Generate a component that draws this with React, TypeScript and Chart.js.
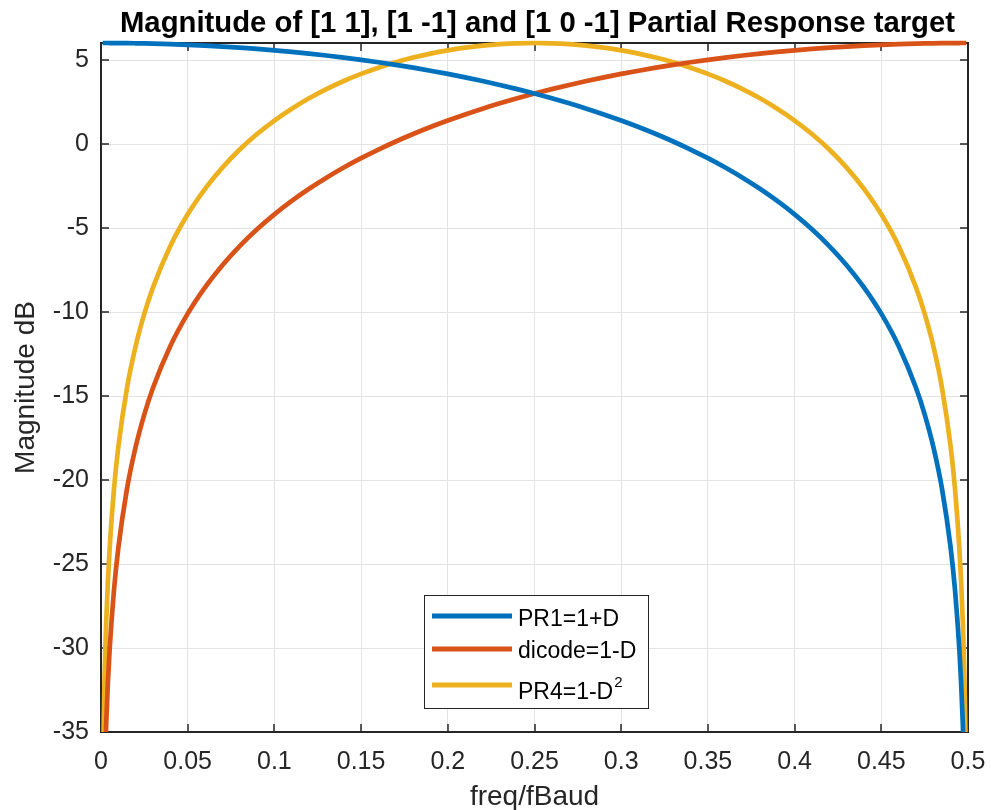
import { useEffect, useRef } from "react";
import { Chart, registerables } from "chart.js";

Chart.register(...registerables);

const FONT = '"Liberation Sans", Arial, Helvetica, sans-serif';

// normalized frequency (freq / fBaud)
const freq = [
  0.001, 0.002, 0.003, 0.004, 0.005, 0.0075, 0.01, 0.015, 0.02, 0.025, 0.03, 0.04,
  0.05, 0.06, 0.07, 0.08, 0.09, 0.1, 0.11, 0.12, 0.13, 0.14, 0.15, 0.16, 0.17, 0.18, 0.19,
  0.2, 0.21, 0.22, 0.23, 0.24, 0.25, 0.26, 0.27, 0.28, 0.29, 0.3, 0.31, 0.32, 0.33, 0.34,
  0.35, 0.36, 0.37, 0.38, 0.39, 0.4, 0.41, 0.42, 0.43, 0.44, 0.45,
  0.46, 0.47, 0.475, 0.48, 0.485, 0.49, 0.4925, 0.495, 0.496, 0.497, 0.498, 0.499,
];

// PR1 = 1+D  (dB)
const pr1 = [
  6.021, 6.02, 6.02, 6.02, 6.019, 6.018, 6.016, 6.011, 6.003, 5.994, 5.982, 5.952,
  5.913, 5.865, 5.809, 5.743, 5.669, 5.585, 5.491, 5.388, 5.275, 5.152, 5.018, 4.874, 4.718, 4.551, 4.372,
  4.18, 3.975, 3.756, 3.523, 3.275, 3.01, 2.729, 2.429, 2.109, 1.768, 1.405, 1.017, 0.601, 0.156, -0.323,
  -0.838, -1.395, -2.0, -2.659, -3.382, -4.18, -5.067, -6.066, -7.205, -8.525, -10.093,
  -12.018, -14.507, -16.087, -18.022, -20.518, -24.038, -26.536, -30.057, -31.995, -34.494, -38.016, -44.036,
];

// dicode = 1-D  (dB)
const dicode = [
  -44.036, -38.016, -34.494, -31.995, -30.057, -26.536, -24.038, -20.518, -18.022, -16.087, -14.507, -12.018,
  -10.093, -8.525, -7.205, -6.066, -5.067, -4.18, -3.382, -2.659, -2.0, -1.395, -0.838, -0.323, 0.156, 0.601, 1.017,
  1.405, 1.768, 2.109, 2.429, 2.729, 3.01, 3.275, 3.523, 3.756, 3.975, 4.18, 4.372, 4.551, 4.718, 4.874,
  5.018, 5.152, 5.275, 5.388, 5.491, 5.585, 5.669, 5.743, 5.809, 5.865, 5.913,
  5.952, 5.982, 5.994, 6.003, 6.011, 6.016, 6.018, 6.019, 6.02, 6.02, 6.02, 6.021,
];

// PR4 = 1-D^2  (dB)
const pr4 = [
  -38.015, -31.996, -28.474, -25.975, -24.038, -20.518, -18.022, -14.507, -12.019, -10.093, -8.525, -6.066,
  -4.18, -2.66, -1.396, -0.323, 0.602, 1.405, 2.109, 2.729, 3.275, 3.757, 4.18, 4.551, 4.874, 5.152, 5.389,
  5.585, 5.743, 5.865, 5.952, 6.004, 6.02, 6.004, 5.952, 5.865, 5.743, 5.585, 5.389, 5.152, 4.874, 4.551,
  4.18, 3.757, 3.275, 2.729, 2.109, 1.405, 0.602, -0.323, -1.396, -2.66, -4.18,
  -6.066, -8.525, -10.093, -12.019, -14.507, -18.022, -20.518, -24.038, -25.975, -28.474, -31.996, -38.015,
];

const seriesLabels = ["PR1=1+D", "dicode=1-D", "PR4=1-D^2"];
const seriesColors = ["#0072BD", "#D95319", "#EDB120"];
const seriesValues = [pr1, dicode, pr4];

const titleText = "Magnitude of [1 1], [1 -1] and [1 0 -1] Partial Response target";
const xTitle = "freq/fBaud";
const yTitle = "Magnitude dB";

const AXIS_COLOR = "#262626";

const titlePlugin = {
  id: "matlabTitle",
  afterDraw(chart: any) {
    const { ctx, chartArea } = chart;
    ctx.save();
    ctx.fillStyle = "#000000";
    ctx.font = `bold 29.3px ${FONT}`;
    ctx.textAlign = "center";
    ctx.textBaseline = "alphabetic";
    ctx.fillText(titleText, (chartArea.left + chartArea.right) / 2 + 3, 32);
    ctx.restore();
  },
};

const boxPlugin = {
  id: "matlabBox",
  beforeDatasetsDraw(chart: any) {
    const { ctx, chartArea } = chart;
    const { left, right, top, bottom } = chartArea;
    const xs = chart.scales.x;
    const ys = chart.scales.y;
    ctx.save();
    ctx.strokeStyle = AXIS_COLOR;
    ctx.lineWidth = 1.5;
    const tl = 8;
    ctx.beginPath();
    xs.ticks.forEach((t: any) => {
      const px = Math.round(xs.getPixelForValue(t.value));
      ctx.moveTo(px, bottom);
      ctx.lineTo(px, bottom - tl);
      ctx.moveTo(px, top);
      ctx.lineTo(px, top + tl);
    });
    ys.ticks.forEach((t: any) => {
      const py = Math.round(ys.getPixelForValue(t.value));
      ctx.moveTo(left, py);
      ctx.lineTo(left + tl, py);
      ctx.moveTo(right, py);
      ctx.lineTo(right - tl, py);
    });
    ctx.stroke();
    ctx.lineWidth = 2;
    ctx.strokeRect(left, top, right - left, bottom - top);
    ctx.restore();
  },
};

const legendPlugin = {
  id: "matlabLegend",
  afterDatasetsDraw(chart: any) {
    const { ctx } = chart;
    const bx = 424, by = 595, bw = 224, bh = 113;
    const baselines = [626, 658, 699];
    const lineYs = [616, 649, 685];
    ctx.save();
    ctx.fillStyle = "#ffffff";
    ctx.fillRect(bx, by, bw, bh);
    ctx.strokeStyle = AXIS_COLOR;
    ctx.lineWidth = 1;
    ctx.strokeRect(bx + 0.5, by + 0.5, bw, bh);
    chart.data.datasets.forEach((ds: any, i: number) => {
      ctx.strokeStyle = ds.borderColor;
      ctx.lineWidth = 5;
      ctx.beginPath();
      ctx.moveTo(432, lineYs[i]);
      ctx.lineTo(512, lineYs[i]);
      ctx.stroke();
      const [main, sup] = String(ds.label).split("^");
      ctx.fillStyle = "#000000";
      ctx.textAlign = "left";
      ctx.textBaseline = "alphabetic";
      ctx.font = `23px ${FONT}`;
      ctx.fillText(main, 518, baselines[i]);
      if (sup) {
        const w = ctx.measureText(main).width;
        ctx.font = `15px ${FONT}`;
        ctx.fillText(sup, 518 + w + 1, baselines[i] - 12);
      }
    });
    ctx.restore();
  },
};

export default function App() {
  const canvasRef = useRef<HTMLCanvasElement | null>(null);

  useEffect(() => {
    document.body.style.margin = "0";
    const canvas = canvasRef.current;
    if (!canvas) return;
    const chart = new Chart(canvas, {
      type: "line",
      data: {
        datasets: seriesLabels.map((label, i) => ({
          label,
          data: freq.map((f, j) => ({ x: f, y: seriesValues[i][j] })),
          borderColor: seriesColors[i],
          backgroundColor: seriesColors[i],
          borderWidth: 4.7,
          pointRadius: 0,
          fill: false,
          cubicInterpolationMode: "monotone" as const,
          clip: { left: 0, right: 0, top: 4, bottom: 0 } as any,
        })),
      },
      options: {
        animation: false,
        responsive: false,
        devicePixelRatio: 1,
        layout: { padding: { left: 0, right: 23, top: 43, bottom: 0 } },
        plugins: {
          legend: { display: false },
          tooltip: { enabled: false },
          title: { display: false },
        },
        scales: {
          x: {
            type: "linear",
            min: 0,
            max: 0.5,
            grid: { color: "#e3e3e3", lineWidth: 1, drawTicks: false },
            border: { display: false },
            ticks: {
              stepSize: 0.05,
              includeBounds: false,
              color: AXIS_COLOR,
              font: { family: FONT, size: 25 },
              padding: 15,
              maxRotation: 0,
              autoSkip: false,
              callback: (v: any) => String(+Number(v).toFixed(3)),
            },
            title: {
              display: true,
              text: xTitle,
              color: AXIS_COLOR,
              font: { family: FONT, size: 28 },
              padding: { top: 0, bottom: -4 },
            },
            afterFit: (s: any) => {
              s.height = 78;
              s.paddingLeft = 0;
              s.paddingRight = 0;
            },
          },
          y: {
            type: "linear",
            min: -35,
            max: 6.0206,
            grid: { color: "#e3e3e3", lineWidth: 1, drawTicks: false },
            border: { display: false },
            ticks: {
              stepSize: 5,
              includeBounds: false,
              color: AXIS_COLOR,
              font: { family: FONT, size: 25 },
              padding: 12,
              autoSkip: false,
            },
            title: {
              display: true,
              text: yTitle,
              color: AXIS_COLOR,
              font: { family: FONT, size: 28 },
              padding: { top: 9, bottom: 0 },
            },
            afterFit: (s: any) => {
              s.width = 101;
              s.paddingTop = 0;
              s.paddingBottom = 0;
            },
          },
        },
      },
      plugins: [boxPlugin, legendPlugin, titlePlugin],
    });
    return () => chart.destroy();
  }, []);

  return (
    <div style={{ width: 991, height: 810, background: "#ffffff" }}>
      <canvas ref={canvasRef} width={991} height={810} />
    </div>
  );
}
